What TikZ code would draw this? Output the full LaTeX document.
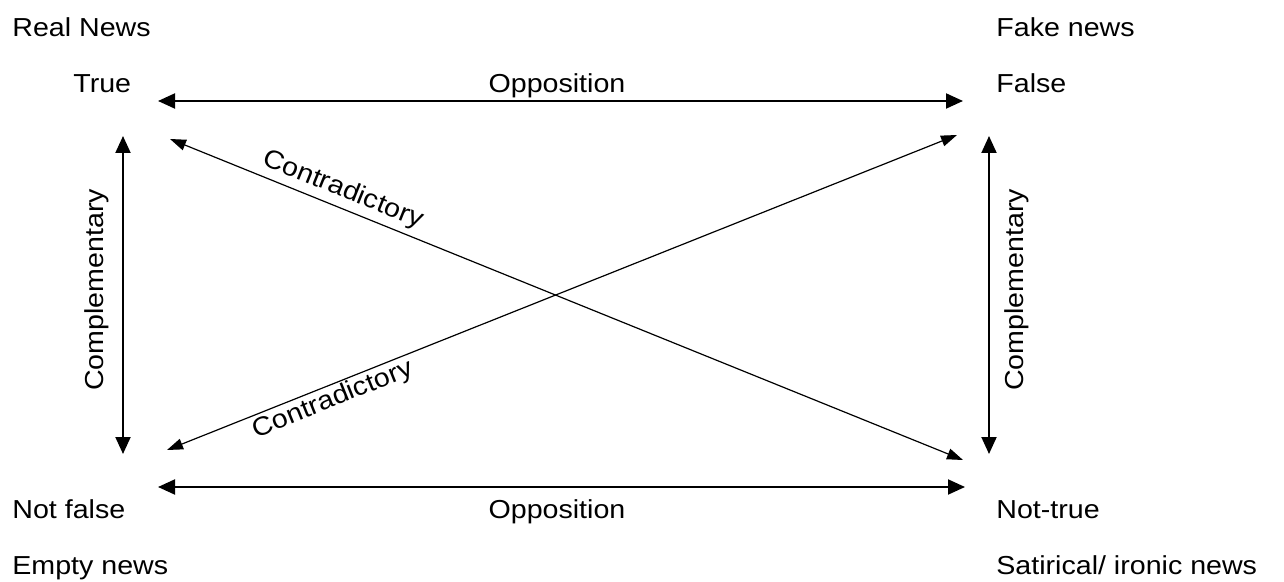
\documentclass[tikz,border=0pt]{standalone}
\usepackage{fontspec}
\setmainfont[FakeStretch=1.1]{Liberation Sans}
\usetikzlibrary{arrows.meta}
\tikzset{
  lbl/.style={font=\fontsize{13}{15}\selectfont, inner sep=0pt, anchor=base west},
  tag/.style={font=\fontsize{13}{15}\selectfont, inner sep=0pt},
  bold arrow/.style={line width=1pt, {Triangle[length=8.5pt,width=7.5pt]}-{Triangle[length=8.5pt,width=7.5pt]}},
  thin arrow/.style={line width=0.6pt, {Triangle[length=8pt,width=5.5pt]}-{Triangle[length=8pt,width=5.5pt]}}
}
\begin{document}
\begin{tikzpicture}[x=0.5pt,y=-0.5pt]
\useasboundingbox (0,0) rectangle (1284,582);
% corner labels
\node[lbl] (realnews) at (12,37) {Real News};
\node[lbl] (true) at (73,93) {True};
\node[lbl] (fakenews) at (996,37) {Fake news};
\node[lbl] (false) at (996,93) {False};
\node[lbl] (notfalse) at (12,518) {Not false};
\node[lbl] (emptynews) at (12,574) {Empty news};
\node[lbl] (nottrue) at (996,518) {Not-true};
\node[lbl] (satirical) at (996,574) {Satirical/ ironic news};
% arrow end points
\coordinate (topL) at (158,101);
\coordinate (topR) at (963,101);
\coordinate (botL) at (158,487);
\coordinate (botR) at (965,487);
\coordinate (leftT) at (123,136);
\coordinate (leftB) at (123,454);
\coordinate (rightT) at (989,136);
\coordinate (rightB) at (989,454);
\coordinate (d1a) at (170,139);
\coordinate (d1b) at (963,460);
\coordinate (d2a) at (957,135);
\coordinate (d2b) at (167,450);
% connectors
\draw[bold arrow] (topL) -- (topR);
\draw[bold arrow] (botL) -- (botR);
\draw[bold arrow] (leftT) -- (leftB);
\draw[bold arrow] (rightT) -- (rightB);
\draw[thin arrow] (d1a) -- (d1b);
\draw[thin arrow] (d2a) -- (d2b);
% connector labels
\node[tag, anchor=base] (opptop) at (557,93) {Opposition};
\node[tag, anchor=base] (oppbot) at (557,518) {Opposition};
\node[tag, rotate=90] (compL) at (97,290) {Complementary};
\node[tag, rotate=90] (compR) at (1017,290) {Complementary};
\node[tag, rotate=-22] (contrtop) at (343,190) {Contradictory};
\node[tag, rotate=22] (contrbot) at (333,400) {Contradictory};
\end{tikzpicture}
\end{document}
